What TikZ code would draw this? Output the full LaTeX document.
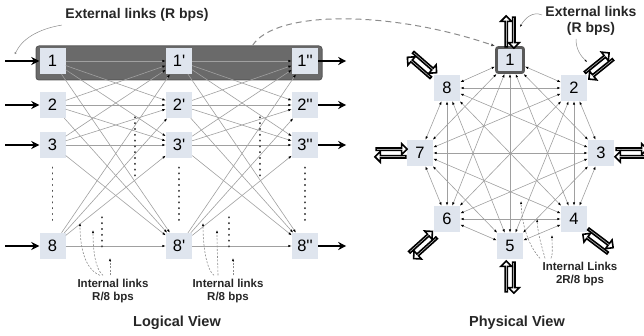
\documentclass[tikz,border=0pt]{standalone}
\usepackage{fontspec}
\setmainfont{Liberation Sans}
\usepackage{xcolor}
\usetikzlibrary{arrows.meta,shapes.arrows}

\definecolor{boxfill}{HTML}{DFE5EE}
\definecolor{bandgray}{HTML}{6A6A6A}
\definecolor{linkgray}{HTML}{A0A0A0}
\definecolor{notegray}{HTML}{8C8C8C}

\begin{document}
\begin{tikzpicture}[x=1pt,y=1pt,
  box/.style={fill=boxfill, minimum width=26pt, minimum height=26pt, inner sep=0pt,
    font=\fontsize{16.5}{16.5}\selectfont},
  hub/.style={box, draw=gray!70!black, line width=2.8pt, rounded corners=2pt,
    minimum width=27pt, minimum height=25pt},
  band/.style={fill=bandgray, draw=black!65, line width=1pt, rounded corners=3pt,
    minimum width=286pt, minimum height=34pt},
  link/.style={draw=linkgray, line width=0.6pt, -{Latex[length=3.5pt,width=2.4pt,color=black]}},
  plink/.style={draw=linkgray, line width=0.6pt,
    {Latex[length=3.5pt,width=2.4pt,color=black]}-{Latex[length=3.5pt,width=2.4pt,color=black]}},
  extlink/.style={line width=2.2pt, -{Stealth[length=8pt,width=8pt]}},
  hollow/.style={single arrow, draw=black, fill=white, line width=1.6pt, inner sep=0pt,
    minimum height=31pt, minimum width=11pt, single arrow head extend=3pt,
    single arrow head indent=0pt},
  vdots/.style={line width=1.2pt, dash pattern=on 0.8pt off 5pt, draw=black!70, line cap=round},
  note/.style={draw=notegray, line width=0.5pt},
  dnote/.style={draw=notegray, line width=0.6pt, dash pattern=on 2pt off 1.5pt,
    -{Latex[length=3pt,width=2.2pt,color=black]}},
  biglabel/.style={font=\bfseries\fontsize{14}{16}\selectfont, text=black!85},
  smalllabel/.style={font=\bfseries\fontsize{11.5}{13.5}\selectfont, text=black!85, align=center},
  viewlabel/.style={font=\bfseries\fontsize{14.5}{16}\selectfont, text=black!85}
]
  \useasboundingbox (0,0) rectangle (644,335);

  % Logical view: highlighted first row
  \node[band] (band) at (179,272) {};

  % Logical view: three stages of nodes
  \foreach \r/\y in {1/274,2/230,3/190,8/89} {
    \node[box] (a\r) at (52.5,\y) {\r};
    \node[box] (b\r) at (179,\y) {\r\textquotesingle};
    \node[box] (c\r) at (305,\y) {\r\textquotesingle\textquotesingle};
    \draw[extlink] ([xshift=-34pt]a\r.west) -- (a\r);
    \draw[extlink] (c\r) -- ([xshift=28pt]c\r.east);
  }

  % Internal links between stages
  \foreach \i in {1,2,3,8}
    \foreach \j in {1,2,3,8} {
      \draw[link] (a\i) -- (b\j);
      \draw[link] (b\i) -- (c\j);
    }

  % Dots for the rows left out
  \foreach \c in {a,b,c}
    \draw[vdots] ([yshift=-9pt]\c3.south) -- ([yshift=9pt]\c8.north);
  \draw[vdots] (135,218) -- (135,158);
  \draw[vdots] (102,118) -- (102,85);
  \draw[vdots] (260,218) -- (260,158);
  \draw[vdots] (229,118) -- (229,85);

  % Labels of the logical view
  \node[biglabel] (extlabel) at (137,320) {External links (R bps)};
  \coordinate (extpt) at (15,281);
  \draw[note, -{Circle[length=2pt]}] (extlabel.south west) .. controls (38,306) and (22,296) .. (extpt);

  \node[smalllabel] (intA) at (113,44) {Internal links\\R/8 bps};
  \draw[dnote] ([xshift=-13pt]intA.north) .. controls (84,66) and (80,90) .. (80,112);
  \draw[dnote] ([xshift=-10pt]intA.north) .. controls (95,66) and (93,86) .. (93,105);
  \draw[dnote] ([xshift=-3pt]intA.north) -- (110,77);

  \node[smalllabel] (intB) at (228,44) {Internal links\\R/8 bps};
  \draw[dnote] ([xshift=-14pt]intB.north) .. controls (206,66) and (203,90) .. (203,112);
  \draw[dnote] ([xshift=-10pt]intB.north) .. controls (218,66) and (217,86) .. (217,105);
  \draw[dnote] ([xshift=5pt]intB.north) -- (233,77);

  \node[viewlabel] (logview) at (177,12) {Logical View};

  % Physical view: eight nodes on a ring
  \node[hub] (p1) at (510,275) {1};
  \foreach \n/\x/\y in {2/574/247,3/601/182,4/574/116,5/510/89,6/447/116,7/420/182,8/447/247}
    \node[box] (p\n) at (\x,\y) {\n};

  % Every node linked to every other
  \foreach \i in {1,...,7} {
    \pgfmathtruncatemacro\k{\i+1}
    \foreach \j in {\k,...,8}
      \draw[plink] (p\i) -- (p\j);
  }

  % External links of the physical view
  \foreach \n/\x/\y/\a [evaluate=\a as \aup using \a+90, evaluate=\a as \adn using \a-90]
      in {1/510/303/90, 2/599/269/39, 3/631/182/0, 4/598/94/-37,
          5/510/58/270, 6/423/90/222, 7/391/182/180, 8/422/270/139} {
    \node[hollow, rotate=\a] (out\n) at ([shift={(\aup:3.8)}]\x,\y) {};
    \node[hollow, rotate=\a+180] (in\n) at ([shift={(\adn:3.8)}]\x,\y) {};
  }

  % Dashed pointer from the logical row to its physical node
  \draw[draw=notegray, line width=1pt, dash pattern=on 6pt off 4pt,
    -{Latex[length=4pt,width=3pt,color=black!70]}]
    ([xshift=-70pt]band.north east) .. controls (275,325) and (390,325) .. (p1.north west);

  % Labels of the physical view
  \node[biglabel, align=center] (plabel) at (591,314) {External links\\(R bps)};
  \draw[note, -{Latex[length=2.5pt,width=2pt,color=black]}] ([yshift=6pt]plabel.west) .. controls (533,324) and (525,317) .. (520,308);
  \draw[note, -{Latex[length=2.5pt,width=2pt,color=black]}] (576,296) .. controls (576,285) and (581,279) .. (587,273);

  \node[smalllabel] (intC) at (580,61) {Internal Links\\2R/8 bps};
  \draw[dnote] ([xshift=-40pt]intC.north) .. controls (528,90) and (522,110) .. (521,134);
  \draw[dnote] ([xshift=-35pt]intC.north) .. controls (542,88) and (538,100) .. (537,116);
  \draw[dnote] ([xshift=-29pt]intC.north) .. controls (553,80) and (552,90) .. (552,100);

  \node[viewlabel] (physview) at (517,12) {Physical View};
\end{tikzpicture}
\end{document}
